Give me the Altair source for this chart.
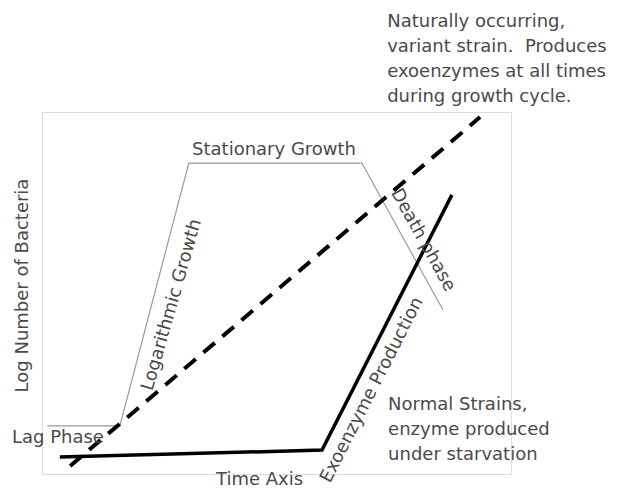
import altair as alt
import pandas as pd

# Chart units: time 0-100 (x), log number 0-100 (y)
curve_t = [1.1, 16.6, 31.3, 68.2, 85.5]
curve_n = [13.3, 13.3, 85.9, 85.9, 45.3]

variant_t = [6.0, 93.4]
variant_n = [2.2, 98.6]

normal_t = [3.8, 59.7, 87.4]
normal_n = [4.7, 6.6, 77.1]

flat_labels = ["Lag Phase", "Stationary Growth",
               "Naturally occurring,", "variant strain.\u00a0 Produces",
               "exoenzymes at all times", "during growth cycle.",
               "Normal Strains,", "enzyme produced", "under starvation"]
flat_t = [-6.4, 32.0, 73.6, 73.6, 73.6, 73.6, 73.8, 73.8, 73.8]
flat_n = [9.9, 89.5, 124.9, 118.0, 111.0, 104.1, 19.1, 12.2, 5.2]

rot_labels = ["Logarithmic Growth", "Death phase", "Exoenzyme Production"]
rot_t = [27.7, 81.2, 70.4]
rot_n = [46.7, 64.6, 23.2]
rot_angle = [286, 61, 297]

FONT = "DejaVu Sans"
TXT = "#4a4a4a"
FS = 18

curve_df = pd.DataFrame({"t": curve_t, "n": curve_n, "i": range(len(curve_t))})
variant_df = pd.DataFrame({"t": variant_t, "n": variant_n, "i": range(len(variant_t))})
normal_df = pd.DataFrame({"t": normal_t, "n": normal_n, "i": range(len(normal_t))})
flat_df = pd.DataFrame({"t": flat_t, "n": flat_n, "label": flat_labels})
rot_df = pd.DataFrame({"t": rot_t, "n": rot_n, "label": rot_labels, "a": rot_angle})

xs = alt.Scale(domain=[0, 100], nice=False, zero=False)
ys = alt.Scale(domain=[0, 100], nice=False, zero=False)

x_axis = alt.Axis(title="Time Axis", labels=False, ticks=False, domain=False, grid=False,
                  titleX=217, titleY=10, titleBaseline="alphabetic", titleAlign="center",
                  titleFont=FONT, titleFontSize=FS, titleFontWeight="normal", titleColor=TXT)
y_axis = alt.Axis(title="Log Number of Bacteria", labels=False, ticks=False, domain=False, grid=False,
                  titleX=-20, titleY=173, titleAngle=270, titleBaseline="middle", titleAlign="center",
                  titleFont=FONT, titleFontSize=FS, titleFontWeight="normal", titleColor=TXT)

curve = alt.Chart(curve_df).mark_line(color="#9a9a9a", strokeWidth=1.2, clip=False).encode(
    x=alt.X("t:Q", scale=xs, axis=x_axis),
    y=alt.Y("n:Q", scale=ys, axis=y_axis),
    order="i:Q",
)

variant = alt.Chart(variant_df).mark_line(color="black", strokeWidth=4, strokeDash=[15, 10],
                                          strokeCap="butt").encode(
    x=alt.X("t:Q", scale=xs), y=alt.Y("n:Q", scale=ys), order="i:Q")

normal = alt.Chart(normal_df).mark_line(color="black", strokeWidth=3.5).encode(
    x=alt.X("t:Q", scale=xs), y=alt.Y("n:Q", scale=ys), order="i:Q")

flat_text = alt.Chart(flat_df).mark_text(align="left", baseline="middle", font=FONT,
                                         fontSize=FS, color=TXT, clip=False).encode(
    x=alt.X("t:Q", scale=xs), y=alt.Y("n:Q", scale=ys), text="label:N")

rot_text = alt.Chart(rot_df).mark_text(align="center", baseline="middle", font=FONT,
                                       fontSize=FS, color=TXT, clip=False).encode(
    x=alt.X("t:Q", scale=xs), y=alt.Y("n:Q", scale=ys), text="label:N",
    angle=alt.Angle("a:Q", scale=None))

chart = alt.layer(curve, variant, normal, flat_text, rot_text).properties(
    width=469, height=362,
    autosize=alt.AutoSizeParams(type="none"),
    padding={"left": 34, "top": 104, "right": 100, "bottom": 15},
).configure_view(stroke="#bdbdbd", strokeWidth=1).configure(background="white")

chart.save("out.html", embed_options={"renderer": "svg", "actions": False})
